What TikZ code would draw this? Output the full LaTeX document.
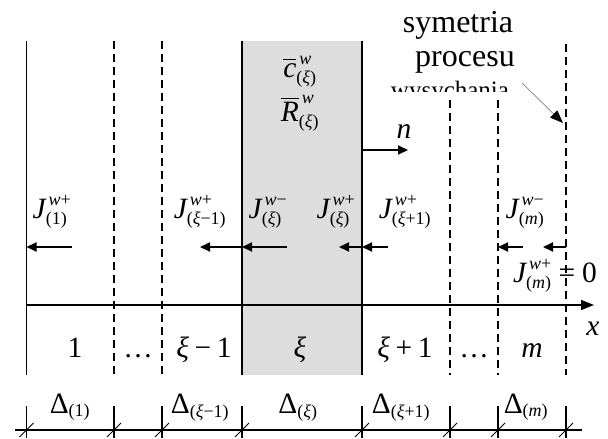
\documentclass[tikz,border=0pt]{standalone}
\usepackage{amsmath}
\usepackage{fontspec}
\setmainfont{Liberation Serif}
\usetikzlibrary{arrows.meta}
\DeclareMathSizes{29.5}{29.5}{18}{13}
\newcommand{\iv}[1]{\text{\itshape #1}}
\newcommand{\rv}[1]{\text{\upshape #1}}
\definecolor{boxgray}{HTML}{DDDDDD}
\tikzset{
  lab/.style={font=\fontsize{29.5}{34}\selectfont, inner sep=0pt, anchor=base},
  bigtxt/.style={font=\fontsize{32}{36}\selectfont, inner sep=0pt, anchor=base},
  smalltxt/.style={font=\fontsize{25}{28}\selectfont, inner sep=0pt, anchor=base},
  solidln/.style={line width=1.2pt},
  dashln/.style={line width=1.2pt, dash pattern=on 8pt off 5pt},
  flux/.style={line width=2pt, -{Triangle[length=10pt,width=9pt]}},
  axisln/.style={line width=1.5pt, -{Triangle[length=13pt,width=10pt]}},
  hint/.style={gray, line width=0.7pt, -{Triangle[length=13pt,width=10pt,color=black]}},
  dimln/.style={line width=1.2pt},
}
\begin{document}
\begin{tikzpicture}[x=1pt,y=-1pt]
\useasboundingbox (0,0) rectangle (608,439);
% shaded cell
\fill[boxgray] (242,41) rectangle (362,375);
% cell boundaries
\foreach \xx in {26.5,242,362} \draw[solidln] (\xx,41) -- (\xx,375);
\foreach \xx in {114,162} \draw[dashln] (\xx,41) -- (\xx,375);
\foreach \xx in {450,498} \draw[dashln] (\xx,100) -- (\xx,375);
\draw[dashln] (566,44) -- (566,375);
% x axis
\coordinate (ax0) at (26.5,305);
\coordinate (ax1) at (594,305);
\draw[axisln] (ax0) -- (ax1);
\node[lab] (xlab) at (593,335) {\iv{x}};
% cell contents
\node[lab] (cbar) at (300,77) {$\overline{\iv{c}}^{\,\iv{w}}_{\rv{(}\iv{ξ}\rv{)}}$};
\node[lab] (rbar) at (300,121) {$\overline{\iv{R}}^{\,\iv{w}}_{\rv{(}\iv{ξ}\rv{)}}$};
% normal vector
\coordinate (n0) at (362,150);
\coordinate (n1) at (408,150);
\draw[flux] (n0) -- (n1);
\node[lab] (nlab) at (404,138) {\iv{n}};
% flux labels
\node[lab] (j1) at (52,218) {$\iv{J}^{\,\iv{w}\rv{+}}_{\rv{(1)}}$};
\node[lab] (j2) at (200,218) {$\iv{J}^{\,\iv{w}\rv{+}}_{\rv{(}\iv{ξ}\mathbin{\rv{−}}\rv{1)}}$};
\node[lab] (j3) at (268,218) {$\iv{J}^{\,\iv{w}\rv{−}}_{\rv{(}\iv{ξ}\rv{)}}$};
\node[lab] (j4) at (336,218) {$\iv{J}^{\,\iv{w}\rv{+}}_{\rv{(}\iv{ξ}\rv{)}}$};
\node[lab] (j5) at (405,218) {$\iv{J}^{\,\iv{w}\rv{+}}_{\rv{(}\iv{ξ}\mathbin{\rv{+}}\rv{1)}}$};
\node[lab] (j6) at (525,218) {$\iv{J}^{\,\iv{w}\rv{−}}_{\rv{(}\iv{m}\rv{)}}$};
\node[lab] (j7) at (555,282) {$\iv{J}^{\,\iv{w}\rv{+}}_{\rv{(}\iv{m}\rv{)}}\mathrel{\rv{=}}\rv{0}$};
% flux arrows
\coordinate (a1s) at (72,247);  \coordinate (a1e) at (26.5,247);
\coordinate (a2s) at (242,247); \coordinate (a2e) at (200,247);
\coordinate (a3s) at (287,247); \coordinate (a3e) at (242,247);
\coordinate (a4s) at (362,247); \coordinate (a4e) at (339,247);
\coordinate (a5s) at (388,247); \coordinate (a5e) at (362,247);
\coordinate (a6s) at (523,247); \coordinate (a6e) at (498,247);
\coordinate (a7s) at (566,247); \coordinate (a7e) at (543,247);
\foreach \i in {1,...,7} \draw[flux] (a\i s) -- (a\i e);
% cell numbers
\node[lab] (c1) at (75,357) {\rv{1}};
\node[lab] (c2) at (138,357) {\rv{…}};
\node[lab] (c3) at (204,357) {$\iv{ξ}\mathbin{\rv{−}}\rv{1}$};
\node[lab] (c4) at (300,357) {\iv{ξ}};
\node[lab] (c5) at (405,357) {$\iv{ξ}\mathbin{\rv{+}}\rv{1}$};
\node[lab] (c6) at (474,357) {\rv{…}};
\node[lab] (c7) at (532,357) {\iv{m}};
% dimension line
\draw[dimln] (15,430) -- (582,430);
\foreach \xx in {26.5,114,162,242,362,450,498,566} {
  \draw[dimln] (\xx,406) -- (\xx,438);
  \draw[line width=1pt] (\xx-7,437) -- (\xx+7,423);
}
\node[lab] (d1) at (70,413) {$\rv{Δ}_{\rv{(1)}}$};
\node[lab] (d2) at (200,413) {$\rv{Δ}_{\rv{(}\iv{ξ}\mathbin{\rv{−}}\rv{1)}}$};
\node[lab] (d3) at (298,413) {$\rv{Δ}_{\rv{(}\iv{ξ}\rv{)}}$};
\node[lab] (d4) at (401,413) {$\rv{Δ}_{\rv{(}\iv{ξ}\mathbin{\rv{+}}\rv{1)}}$};
\node[lab] (d5) at (526,413) {$\rv{Δ}_{\rv{(}\iv{m}\rv{)}}$};
% symmetry note
\node[bigtxt] (s1) at (458,32) {symetria};
\node[bigtxt] (s2) at (465,66) {procesu};
\begin{scope}
  \clip (380,70) rectangle (560,91);
  \node[smalltxt] (s3) at (450,98) {wysychania};
\end{scope}
\coordinate (h0) at (522,83);
\coordinate (h1) at (563,123);
\draw[hint] (h0) -- (h1);
\end{tikzpicture}
\end{document}
